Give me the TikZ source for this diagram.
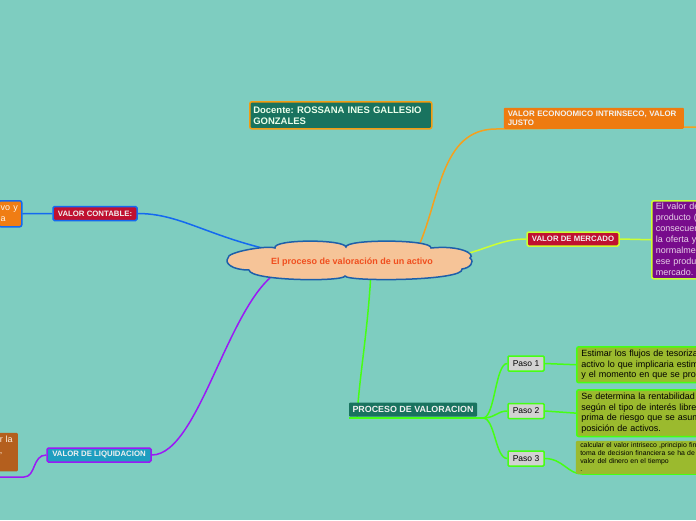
\documentclass[tikz,border=0pt]{standalone}
\usepackage{fontspec}
\setmainfont{Liberation Sans}
\usetikzlibrary{calc}
\frenchspacing

\pgfdeclarelayer{back}
\pgfdeclarelayer{links}
\pgfsetlayers{back,links,main}

\definecolor{mapbg}{RGB}{126,205,192}
\definecolor{cloudfill}{RGB}{246,196,152}
\definecolor{cloudline}{RGB}{30,95,170}
\definecolor{cloudtext}{RGB}{240,78,30}
\definecolor{docfill}{RGB}{25,115,95}
\definecolor{docline}{RGB}{243,156,18}
\definecolor{econfill}{RGB}{238,123,16}
\definecolor{econline}{RGB}{245,160,30}
\definecolor{crimson}{RGB}{192,16,48}
\definecolor{limeline}{RGB}{204,255,51}
\definecolor{purplebox}{RGB}{120,12,140}
\definecolor{blueline}{RGB}{20,105,240}
\definecolor{liqfill}{RGB}{30,158,192}
\definecolor{violetline}{RGB}{155,25,245}
\definecolor{brownbox}{RGB}{180,95,30}
\definecolor{orangebox}{RGB}{240,125,20}
\definecolor{greenline}{RGB}{70,255,20}
\definecolor{pasogray}{RGB}{210,210,210}
\definecolor{olivebox}{RGB}{155,186,46}

\begin{document}
\begin{tikzpicture}[
    x=1pt, y=-1pt,
    link/.style={line width=1.5pt},
    cloudline/.style={draw=cloudline, fill=cloudfill, line width=1.5pt},
    cloudtitle/.style={inner sep=0pt, font=\fontsize{9}{11}\selectfont\bfseries, text=cloudtext},
    tagbox/.style={font=\fontsize{7.8}{9}\selectfont\bfseries, text=white!94!black,
      inner xsep=0pt, inner ysep=0pt, minimum height=14pt, rounded corners=1.5pt,
      line width=1.5pt},
    notebox/.style={anchor=north west, align=left, font=\fontsize{9}{11}\selectfont,
      inner xsep=4pt, inner ysep=3pt, rounded corners=2pt, line width=1.5pt},
    pasobox/.style={font=\fontsize{8.5}{10}\selectfont, fill=pasogray, draw=greenline,
      line width=1.5pt, rounded corners=1pt, minimum width=36pt, minimum height=15pt,
      inner sep=0pt},
    descbox/.style={notebox, text width=150pt, fill=olivebox, draw=greenline,
      font=\fontsize{9}{10.8}\selectfont, inner xsep=4.5pt}
  ]

% --- canvas ---
    \useasboundingbox (0,0) rectangle (696,520);
    \clip (0,0) rectangle (696,520);
    \begin{pgfonlayer}{back}
      \fill[mapbg] (0,0) rectangle (696,520);
    \end{pgfonlayer}

% --- central topic ---
    \draw[cloudline] (228,258)
      .. controls (226,252) and (268,245) .. (275,248)
      .. controls (272,239) and (344,239) .. (346,247)
      .. controls (345,239) and (432,239) .. (431,248)
      .. controls (460,245) and (476,254) .. (470,258)
      .. controls (475,262) and (470,268) .. (462,269)
      .. controls (465,281) and (348,282) .. (345,276)
      .. controls (343,282) and (250,281) .. (249,270)
      .. controls (232,270) and (224,263) .. cycle;
    \node[cloudtitle] (cloud) at (352,262) {El proceso de valoración de un activo};

% --- teacher ---
    \node[notebox, fill=docfill, draw=docline, text width=175pt, minimum height=27pt,
      inner xsep=3.5pt, font=\fontsize{9.5}{11}\selectfont\bfseries, text=white!92!green]
      (docente) at (249,101) {Docente: ROSSANA INES GALLESIO\\GONZALES};

% --- upper right branch ---
    \node[notebox, fill=econfill, text width=172pt, minimum height=21pt, rounded corners=1pt,
      font=\fontsize{7.9}{9}\selectfont\bfseries, text=white!95!black]
      (econ) at (503,107) {VALOR ECONOOMICO INTRINSECO, VALOR\\JUSTO};
    \coordinate (econ-a) at (496,129);
    \coordinate (econ-b) at (700,127);

% --- market value ---
    \node[tagbox, fill=crimson, draw=limeline, minimum width=92pt] (mercado) at (573,239) {VALOR DE MERCADO};
    \node[notebox, fill=purplebox, draw=limeline, text width=80pt, minimum height=78pt,
      inner ysep=1pt, text=white!82!violet]
      (valm) at (651,200) {El valor de\\producto (\\consecuen\\la oferta y\\normalme\\ese produ\\mercado.};

% --- book value ---
    \node[tagbox, fill=crimson, draw=blueline, minimum width=84pt] (contable) at (95,213.5) {VALOR CONTABLE:};
    \node[notebox, fill=orangebox, draw=blueline, text width=19pt, minimum height=26pt,
      inner xsep=2pt, inner ysep=2pt, text=white!92!orange]
      (activo) at (-2,200) {vo y\\a};

% --- liquidation value ---
    \node[tagbox, fill=liqfill, draw=violetline, minimum width=104pt] (liquidacion) at (99,455) {VALOR DE LIQUIDACION};
    \node[notebox, fill=brownbox, text width=16pt, inner xsep=2pt, text depth=26pt,
      rounded corners=1pt, text=white!88!orange]
      (liqnota) at (-3,432) {r la\\,};
    \coordinate (liq-a) at (24,477);
    \coordinate (liq-b) at (-5,477);

% --- valuation process ---
    \node[tagbox, fill=docfill, minimum width=128pt, rounded corners=1pt,
      font=\fontsize{8.9}{10}\selectfont\bfseries] (proceso) at (413,409.5) {PROCESO DE VALORACION};
    \coordinate (proc-a) at (349,418);
    \coordinate (proc-in) at (357,418);
    \coordinate (proc-b) at (483,418);

    \node[pasobox] (paso1) at (526,363.5) {Paso 1};
    \node[pasobox] (paso2) at (526,411) {Paso 2};
    \node[pasobox] (paso3) at (526,458.5) {Paso 3};

    \node[descbox, minimum height=35pt] (desc1) at (576,346)
      {Estimar los flujos de tesoriza\\activo lo que implicaria estim\\y el momento en que se proc};
    \node[descbox, minimum height=46pt] (desc2) at (576,389)
      {Se determina la rentabilidad\\según el tipo de interés libre\\prima de riesgo que se asum\\posición de activos.};
    \node[descbox, draw=none, font=\fontsize{6.9}{8}\selectfont, inner ysep=2pt, minimum height=33pt]
      (desc3) at (575,440)
      {calcular el valor intriseco ,principio fina\\toma de decision financiera se ha de t\\valor del dinero en el tiempo\\.};
    \coordinate (p3-a) at (582,474);
    \coordinate (p3-b) at (700,474);

% --- connectors ---
    \begin{pgfonlayer}{links}
      \draw[link, blueline] (contable.east) .. controls +(55,0) and +(-130,-10) .. (cloud.center);
      \draw[link, blueline] (activo.east) -- (contable.west);
      \draw[link, econline] ($(cloud.center)+(65,-12)$) .. controls +(23,-49) and +(-56,0) .. (econ-a) -- (econ-b);
      \draw[link, limeline] ($(cloud.center)+(97,-4)$) .. controls +(36,-7) and +(-27,0) .. (mercado.west);
      \draw[link, limeline] (mercado.east) -- (valm.west);
      \draw[link, violetline] (liquidacion.east) .. controls +(49,0) and +(-55,22) .. ($(cloud.center)+(-67,6)$);
      \draw[link, violetline] (liquidacion.west) .. controls +(-14,0) and +(12,0) .. (liq-a) -- (liq-b);
      \draw[link, greenline] ($(cloud.center)+(19,9)$) .. controls +(-3,60) and +(2,-40) .. (proc-in);
      \draw[link, greenline] (proc-a) -- (proc-b);
      \draw[link, greenline] (proc-b) .. controls +(12,0) and +(-12,0) .. (paso1.west);
      \draw[link, greenline] (proc-b) .. controls +(12,0) and +(-10,0) .. (paso2.west);
      \draw[link, greenline] (proc-b) .. controls +(12,0) and +(-12,0) .. (paso3.west);
      \draw[link, greenline] (paso1.east) -- (desc1.west);
      \draw[link, greenline] (paso2.east) -- (desc2.west);
      \draw[link, greenline] (paso3.east) .. controls +(18,0) and +(-14,0) .. (p3-a) -- (p3-b);
    \end{pgfonlayer}

  \end{tikzpicture}
\end{document}
